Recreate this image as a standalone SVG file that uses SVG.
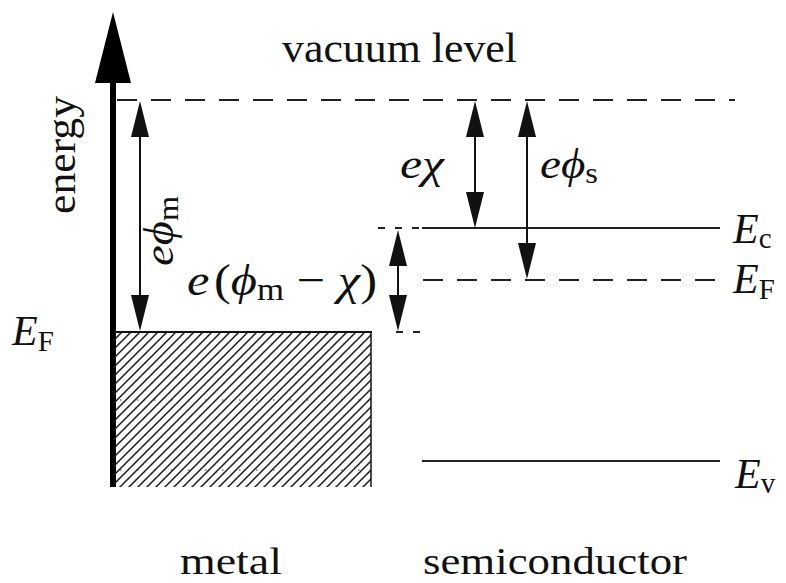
<svg xmlns="http://www.w3.org/2000/svg" width="786" height="583" viewBox="0 0 786 583">
<style>
.t{font-family:"Liberation Serif","Times New Roman",serif;font-size:42px;fill:#111}
.b{font-size:38px}
.i{font-style:italic}
.sub{font-size:29px;font-style:normal}
.solid{stroke:#222;stroke-width:2;fill:none}
.dash{stroke:#222;stroke-width:2;fill:none;stroke-dasharray:20 14}
.sdash{stroke:#222;stroke-width:2;fill:none;stroke-dasharray:7 10}
.arr{stroke:#111;stroke-width:2;fill:none;marker-start:url(#ah);marker-end:url(#ah)}
</style>
<defs>
<marker id="ah" markerUnits="userSpaceOnUse" markerWidth="36" markerHeight="18" refX="0" refY="9" orient="auto-start-reverse" viewBox="0 0 36 18">
<path d="M0,0 L36,9 L0,18 Z" fill="#111"/>
</marker>
<pattern id="hatch" patternUnits="userSpaceOnUse" width="9" height="9" x="113" y="332">
<path d="M-1,1 L1,-1 M0,9 L9,0 M8,10 L10,8" stroke="#1a1a1a" stroke-width="1.5"/>
</pattern>
</defs>

<g id="axis">
<line x1="113" y1="487" x2="113" y2="80" stroke="#000" stroke-width="6"/>
<polygon points="113,12 95,83 131,83" fill="#000"/>
<text class="t" transform="translate(75,214) rotate(-90)" textLength="118" lengthAdjust="spacingAndGlyphs">energy</text>
</g>

<g id="vacuum">
<line class="dash" x1="117" y1="100" x2="735" y2="100"/>
<text class="t" x="282" y="62" textLength="235" lengthAdjust="spacingAndGlyphs">vacuum level</text>
</g>

<g id="metal">
<rect x="113" y="332" width="258" height="155" fill="url(#hatch)"/>
<line x1="113" y1="332" x2="372" y2="332" stroke="#111" stroke-width="2.2"/>
<line x1="371" y1="332" x2="371" y2="487" stroke="#111" stroke-width="1.5"/>
<line x1="120" y1="400" x2="371" y2="400" stroke="#333" stroke-width="1.2" stroke-dasharray="1.5 15.5"/>
<line x1="120" y1="470" x2="371" y2="470" stroke="#333" stroke-width="1.2" stroke-dasharray="1.5 15.5"/>
<text class="t" x="12" y="345"><tspan class="i">E</tspan><tspan class="sub" dy="6">F</tspan></text>
<text class="t b" x="180" y="574" textLength="102" lengthAdjust="spacingAndGlyphs">metal</text>
</g>

<g id="semiconductor">
<line class="sdash" x1="378" y1="228" x2="422" y2="228"/>
<line class="solid" x1="422" y1="228" x2="720" y2="228"/>
<line class="dash" x1="423" y1="280" x2="720" y2="280"/>
<line class="sdash" x1="396" y1="332" x2="422" y2="332"/>
<line class="solid" x1="422" y1="461" x2="720" y2="461"/>
<text class="t" x="733" y="243"><tspan class="i">E</tspan><tspan class="sub" dy="5">c</tspan></text>
<text class="t" x="733" y="293"><tspan class="i">E</tspan><tspan class="sub" dy="6">F</tspan></text>
<text class="t" x="735" y="488"><tspan class="i">E</tspan><tspan class="sub" dy="5">v</tspan></text>
<text class="t b" x="423" y="574" textLength="264" lengthAdjust="spacingAndGlyphs">semiconductor</text>
</g>

<g id="connectors">
<line class="arr" x1="140" y1="137" x2="140" y2="295"/>
<line class="arr" x1="475" y1="137" x2="475" y2="192"/>
<line class="arr" x1="527" y1="137" x2="527" y2="243"/>
<line class="arr" x1="398" y1="266" x2="398" y2="295"/>
</g>

<g id="labels">
<text class="t" transform="translate(173,266) rotate(-90)" textLength="70" lengthAdjust="spacingAndGlyphs"><tspan class="i">eϕ</tspan><tspan class="sub" dy="5">m</tspan></text>
<text class="t" x="400" y="178" textLength="44" lengthAdjust="spacingAndGlyphs"><tspan class="i">eχ</tspan></text>
<text class="t" x="540" y="178" textLength="58" lengthAdjust="spacingAndGlyphs"><tspan class="i">eϕ</tspan><tspan class="sub" dy="5">s</tspan></text>
<text class="t" x="187" y="295" style="font-size:45px" textLength="190" lengthAdjust="spacingAndGlyphs"><tspan class="i">e</tspan><tspan dx="4">(</tspan><tspan class="i">ϕ</tspan><tspan class="sub" dy="5" style="font-size:31px">m</tspan><tspan dy="-5"> − </tspan><tspan class="i">χ</tspan>)</text>
</g>
</svg>
